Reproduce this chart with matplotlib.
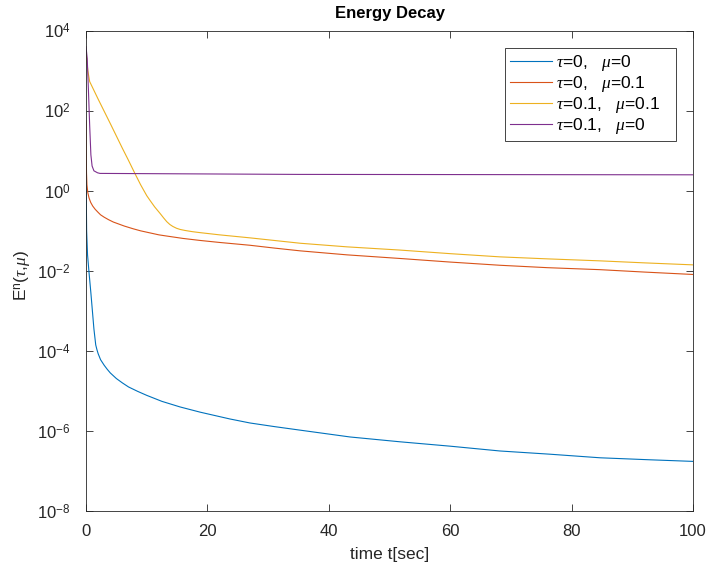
import numpy as np
import matplotlib
matplotlib.use("Agg")
import matplotlib.pyplot as plt
from matplotlib.ticker import NullLocator, FuncFormatter

plt.rcParams["font.family"] = ["Liberation Sans", "DejaVu Sans"]
plt.rcParams["mathtext.fontset"] = "custom"
plt.rcParams["mathtext.rm"] = "Liberation Sans"
plt.rcParams["mathtext.it"] = "Liberation Serif:italic"
plt.rcParams["axes.unicode_minus"] = False

# values (t in sec, energy as log10)
t_blue = [0, 0.1, 0.25, 0.5, 0.8, 1.05, 1.3, 1.6, 1.8, 2.0, 2.4, 3.0, 3.5, 4.0, 4.5, 5, 6,
          7, 8.5, 10, 12.5, 15.5, 18.8, 23.7, 27, 31, 35.3, 43.5, 51.7, 60, 68.2, 76.4,
          84.7, 92.9, 100]
log_blue = [0.5, -1.0, -1.6, -2.05, -2.55, -3.0, -3.45, -3.85, -3.97, -4.07, -4.22, -4.36,
            -4.46, -4.55, -4.62, -4.69, -4.8, -4.9, -5.01, -5.11, -5.26, -5.4, -5.53, -5.7,
            -5.8, -5.89, -5.98, -6.15, -6.27, -6.38, -6.5, -6.58, -6.67, -6.72, -6.76]

t_red = [0, 0.03, 0.08, 0.15, 0.3, 0.5, 0.77, 1.1, 1.5, 2, 2.4, 3, 3.7, 4.5, 5.4, 6.3,
         7.8, 9, 10.5, 12, 13.3, 16, 18.8, 22, 27, 31, 35.3, 43, 51.7, 60, 68.2, 76,
         84.7, 92, 100]
log_red = [1.75, 1.0, 0.45, 0.15, -0.05, -0.18, -0.29, -0.38, -0.46, -0.54, -0.6, -0.66,
           -0.72, -0.78, -0.83, -0.88, -0.95, -1.0, -1.05, -1.1, -1.13, -1.19, -1.24,
           -1.29, -1.36, -1.43, -1.5, -1.6, -1.69, -1.78, -1.86, -1.92, -1.97, -2.03, -2.09]

t_yel = [0, 0.1, 0.3, 0.6, 2, 4, 6, 7, 8, 9, 10, 10.5, 11.3, 12.2, 12.8, 13.3, 13.8, 14.3,
         14.9, 15.5, 16.3, 17.5, 18.8, 22, 27, 35.3, 43, 51.7, 60, 68.2, 76, 84.7, 92, 100]
log_yel = [3.5, 3.3, 3.0, 2.73, 2.29, 1.68, 1.06, 0.76, 0.45, 0.15, -0.12, -0.23, -0.4,
           -0.565, -0.68, -0.77, -0.84, -0.89, -0.935, -0.965, -0.99, -1.02, -1.045, -1.1,
           -1.175, -1.31, -1.4, -1.48, -1.57, -1.65, -1.7, -1.75, -1.8, -1.85]

t_pur = [0, 0.2, 0.4, 0.6, 0.8, 1.0, 1.3, 1.9, 2.3, 35, 68, 100]
log_pur = [3.6, 3.3, 2.5, 1.64, 0.9, 0.62, 0.5, 0.45, 0.435, 0.41, 0.405, 0.40]

labels = [r"$\tau$=0,   $\mu$=0", r"$\tau$=0,   $\mu$=0.1",
          r"$\tau$=0.1,   $\mu$=0.1", r"$\tau$=0.1,   $\mu$=0"]
colors = ["#0072BD", "#D95319", "#EDB120", "#7E2F8E"]
series = [(t_blue, log_blue), (t_red, log_red), (t_yel, log_yel), (t_pur, log_pur)]

fig = plt.figure(figsize=(7.08, 5.72), dpi=100)
ax = fig.add_axes([0.1215, 0.1066, 0.8573, 0.8397])
for (t, lg), c, lab in zip(series, colors, labels):
    ax.semilogy(t, 10.0 ** np.array(lg), color=c, lw=0.8, label=lab + "   ")

ax.set_xlim(0, 100)
ax.set_ylim(1e-8, 1e4)
ax.set_xticks([0, 20, 40, 60, 80, 100])
ax.set_yticks([1e-8, 1e-6, 1e-4, 1e-2, 1e0, 1e2, 1e4])
ax.yaxis.set_minor_locator(NullLocator())
ax.yaxis.set_major_formatter(FuncFormatter(
    lambda v, p: r"10$^{\mathrm{%d}}$" % int(round(np.log10(v)))))
ax.tick_params(direction="in", length=5, width=0.6, colors="#262626", labelsize=12,
               top=True, right=True)
ax.tick_params(axis="x", pad=9)
ax.tick_params(axis="y", pad=11)
for s in ax.spines.values():
    s.set_color("#262626"); s.set_linewidth(0.6)

ax.set_title("Energy Decay", fontsize=12, fontweight="bold", pad=9)
ax.set_xlabel("time t[sec]", fontsize=12.5, color="#262626", labelpad=6)
ax.set_ylabel(r"E$^\mathrm{n}$($\tau$,$\mu$)", fontsize=12.5, color="#262626")
ax.yaxis.set_label_coords(-0.085, 0.49)

leg = ax.legend(loc="upper right", bbox_to_anchor=(0.972, 0.964), fontsize=12.5,
                fancybox=False, framealpha=1, edgecolor="#262626", handlelength=2.4,
                borderpad=0.3, labelspacing=0.05, handletextpad=0.25, borderaxespad=0)
leg.get_frame().set_linewidth(0.6)

fig.savefig("out.png", dpi=100)
